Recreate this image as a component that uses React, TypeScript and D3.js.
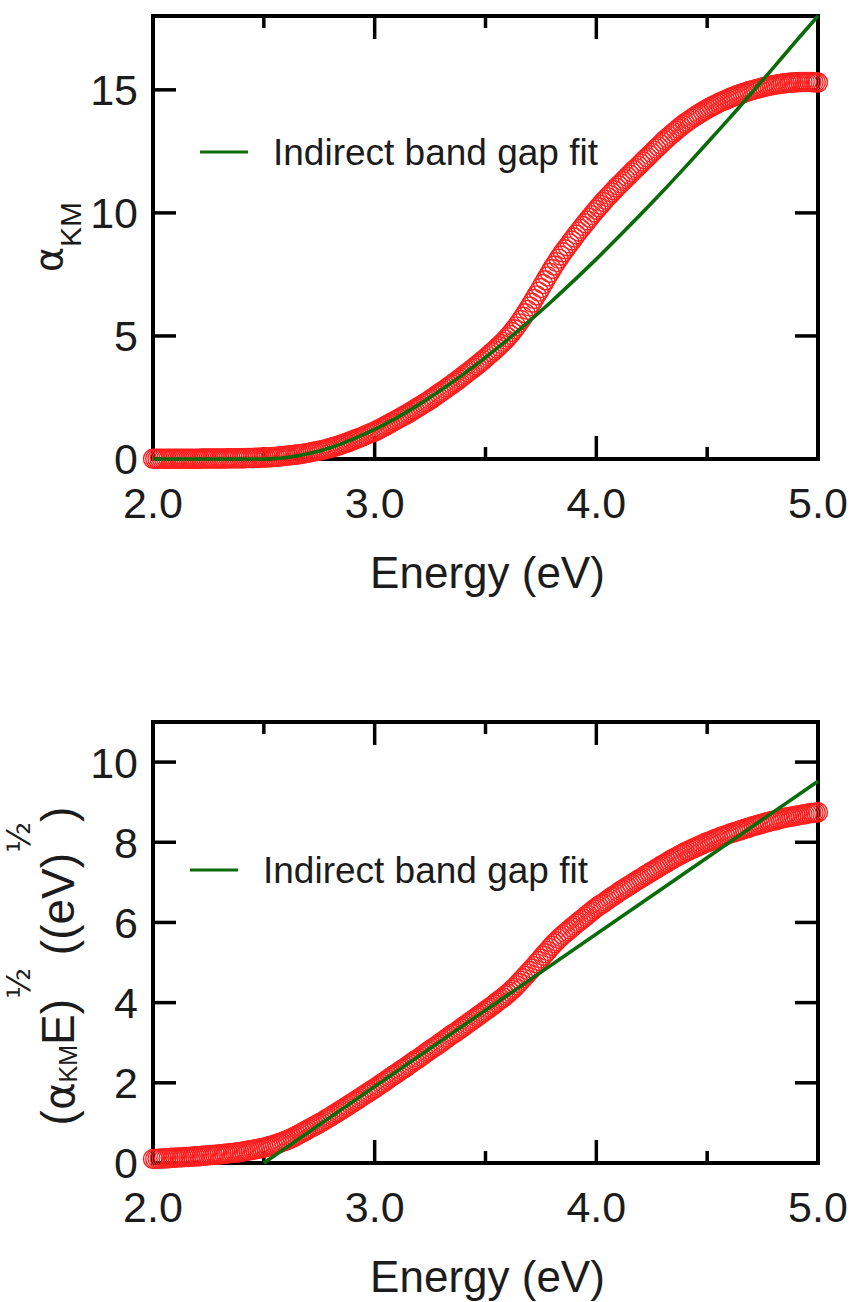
import React from 'react';
import * as d3 from 'd3';

// Photon energy grid of the measured spectra (eV)
const energyStart = 2.0;
const energyStep = 0.01;

// Kubelka-Munk absorption, alpha_KM, sampled every 0.01 eV from 2.00 to 5.00 eV
const alphaKM = [
  0.01, 0.01, 0.01, 0.01, 0.01, 0.01, 0.01, 0.01, 0.01, 0.01,
  0.01, 0.01, 0.01, 0.01, 0.01, 0.01, 0.01, 0.01, 0.01, 0.01,
  0.01, 0.01, 0.02, 0.02, 0.02, 0.02, 0.02, 0.02, 0.02, 0.02,
  0.02, 0.02, 0.02, 0.02, 0.03, 0.03, 0.03, 0.03, 0.03, 0.03,
  0.03, 0.03, 0.04, 0.04, 0.04, 0.04, 0.05, 0.05, 0.05, 0.06,
  0.06, 0.06, 0.07, 0.07, 0.08, 0.08, 0.09, 0.10, 0.11, 0.12,
  0.13, 0.14, 0.15, 0.16, 0.17, 0.18, 0.19, 0.21, 0.22, 0.24,
  0.25, 0.27, 0.29, 0.31, 0.32, 0.34, 0.36, 0.38, 0.40, 0.43,
  0.45, 0.48, 0.50, 0.53, 0.56, 0.59, 0.62, 0.65, 0.68, 0.72,
  0.75, 0.79, 0.82, 0.86, 0.89, 0.93, 0.97, 1.01, 1.05, 1.08,
  1.12, 1.17, 1.21, 1.26, 1.30, 1.35, 1.40, 1.45, 1.50, 1.55,
  1.60, 1.65, 1.70, 1.75, 1.80, 1.85, 1.90, 1.96, 2.01, 2.07,
  2.12, 2.18, 2.24, 2.29, 2.35, 2.41, 2.47, 2.53, 2.60, 2.66,
  2.72, 2.78, 2.85, 2.91, 2.98, 3.04, 3.11, 3.17, 3.24, 3.31,
  3.38, 3.45, 3.52, 3.59, 3.66, 3.73, 3.80, 3.87, 3.95, 4.02,
  4.10, 4.18, 4.26, 4.34, 4.42, 4.50, 4.58, 4.67, 4.76, 4.85,
  4.95, 5.05, 5.16, 5.27, 5.39, 5.52, 5.65, 5.78, 5.92, 6.06,
  6.20, 6.35, 6.50, 6.65, 6.80, 6.95, 7.11, 7.26, 7.42, 7.57,
  7.72, 7.86, 8.00, 8.14, 8.27, 8.40, 8.52, 8.64, 8.76, 8.88,
  9.00, 9.12, 9.24, 9.35, 9.47, 9.58, 9.69, 9.80, 9.91, 10.02,
  10.13, 10.23, 10.33, 10.44, 10.54, 10.64, 10.73, 10.83, 10.92, 11.02,
  11.11, 11.20, 11.29, 11.38, 11.47, 11.56, 11.65, 11.74, 11.82, 11.91,
  12.00, 12.09, 12.18, 12.26, 12.35, 12.44, 12.53, 12.62, 12.70, 12.79,
  12.88, 12.96, 13.04, 13.12, 13.20, 13.28, 13.35, 13.43, 13.50, 13.57,
  13.64, 13.70, 13.77, 13.83, 13.89, 13.95, 14.01, 14.06, 14.12, 14.17,
  14.22, 14.27, 14.32, 14.37, 14.41, 14.46, 14.50, 14.54, 14.58, 14.62,
  14.66, 14.70, 14.73, 14.77, 14.80, 14.83, 14.86, 14.89, 14.92, 14.95,
  14.98, 15.00, 15.03, 15.05, 15.08, 15.10, 15.12, 15.14, 15.16, 15.18,
  15.20, 15.21, 15.23, 15.24, 15.26, 15.27, 15.28, 15.29, 15.30, 15.30,
  15.31, 15.31, 15.32, 15.32, 15.32, 15.32, 15.32, 15.32, 15.31, 15.31,
  15.30,
];

// (alpha_KM * E)^(1/2), same energy grid
const alphaKMEHalf = [
  0.10, 0.10, 0.11, 0.11, 0.11, 0.12, 0.12, 0.12, 0.13, 0.13,
  0.13, 0.14, 0.14, 0.14, 0.15, 0.15, 0.15, 0.16, 0.16, 0.17,
  0.17, 0.17, 0.18, 0.18, 0.19, 0.19, 0.20, 0.20, 0.21, 0.21,
  0.22, 0.22, 0.23, 0.23, 0.24, 0.25, 0.25, 0.26, 0.27, 0.27,
  0.28, 0.29, 0.30, 0.31, 0.32, 0.33, 0.34, 0.35, 0.36, 0.37,
  0.38, 0.40, 0.41, 0.43, 0.44, 0.46, 0.48, 0.50, 0.52, 0.54,
  0.56, 0.58, 0.61, 0.63, 0.66, 0.69, 0.72, 0.75, 0.78, 0.81,
  0.84, 0.87, 0.90, 0.93, 0.96, 0.99, 1.02, 1.05, 1.09, 1.12,
  1.15, 1.19, 1.22, 1.26, 1.29, 1.33, 1.36, 1.40, 1.43, 1.47,
  1.50, 1.54, 1.57, 1.61, 1.65, 1.68, 1.72, 1.76, 1.79, 1.83,
  1.86, 1.90, 1.94, 1.98, 2.01, 2.05, 2.09, 2.13, 2.17, 2.20,
  2.24, 2.28, 2.32, 2.35, 2.39, 2.43, 2.47, 2.51, 2.55, 2.58,
  2.62, 2.66, 2.70, 2.74, 2.78, 2.82, 2.86, 2.89, 2.93, 2.97,
  3.01, 3.05, 3.09, 3.13, 3.17, 3.21, 3.24, 3.28, 3.32, 3.36,
  3.40, 3.44, 3.48, 3.52, 3.56, 3.60, 3.64, 3.68, 3.72, 3.76,
  3.80, 3.84, 3.88, 3.92, 3.96, 4.01, 4.05, 4.09, 4.13, 4.18,
  4.22, 4.27, 4.32, 4.37, 4.43, 4.49, 4.55, 4.61, 4.67, 4.73,
  4.79, 4.85, 4.91, 4.98, 5.04, 5.10, 5.17, 5.23, 5.29, 5.36,
  5.42, 5.48, 5.53, 5.59, 5.64, 5.69, 5.74, 5.78, 5.83, 5.88,
  5.92, 5.97, 6.01, 6.06, 6.10, 6.15, 6.19, 6.24, 6.28, 6.33,
  6.37, 6.41, 6.45, 6.48, 6.52, 6.56, 6.60, 6.64, 6.67, 6.71,
  6.75, 6.79, 6.82, 6.86, 6.89, 6.93, 6.96, 7.00, 7.03, 7.07,
  7.10, 7.13, 7.17, 7.20, 7.24, 7.27, 7.30, 7.34, 7.37, 7.41,
  7.44, 7.47, 7.50, 7.54, 7.57, 7.60, 7.63, 7.66, 7.69, 7.72,
  7.75, 7.78, 7.80, 7.83, 7.85, 7.88, 7.90, 7.93, 7.95, 7.98,
  8.00, 8.02, 8.04, 8.07, 8.09, 8.11, 8.13, 8.15, 8.17, 8.19,
  8.21, 8.23, 8.25, 8.26, 8.28, 8.30, 8.32, 8.34, 8.35, 8.37,
  8.39, 8.41, 8.42, 8.44, 8.45, 8.47, 8.48, 8.50, 8.51, 8.53,
  8.54, 8.55, 8.57, 8.58, 8.60, 8.61, 8.62, 8.63, 8.64, 8.65,
  8.66, 8.67, 8.68, 8.69, 8.70, 8.71, 8.72, 8.73, 8.73, 8.74,
  8.75,
];

// Indirect band gap fit curves
const fitEnergyTop = [
  2.0, 2.1, 2.2, 2.3, 2.4, 2.5, 2.6, 2.7, 2.8, 2.9, 3.0, 3.1, 3.2, 3.3, 3.4, 3.5,
  3.6, 3.7, 3.8, 3.9, 4.0, 4.1, 4.2, 4.3, 4.4, 4.5, 4.6, 4.7, 4.8, 4.9, 5.0,
];
const fitAlphaKM = [
  0, 0, 0, 0, 0, 0, 0.06, 0.21, 0.46, 0.8, 1.2, 1.68, 2.21, 2.8, 3.44, 4.13,
  4.85, 5.62, 6.42, 7.26, 8.12, 9.02, 9.94, 10.88, 11.85, 12.84, 13.84, 14.87, 15.91, 16.97, 18.0,
];
const fitEnergyBottom = [2.5, 5.0];
const fitAlphaKMEHalf = [0, 9.52];

// Axis ticks and labels
const xMajorTicks = [2, 3, 4, 5];
const xMinorTicks = [2.5, 3.5, 4.5];
const topYTicks = [0, 5, 10, 15];
const bottomYTicks = [0, 2, 4, 6, 8, 10];
const legendLabel = 'Indirect band gap fit';
const xAxisTitle = 'Energy (eV)';

const FONT = '"Liberation Sans", Arial, Helvetica, sans-serif';
const GREEK = '"DejaVu Sans", sans-serif';
const TEXT = '#1c1c1c';
const RED = '#ff1f1f';
const GREEN = '#0b6b0b';
const LEFT = 153;
const RIGHT = 818;

type Pt = { e: number; v: number };

function Panel(props: {
  top: number;
  bottom: number;
  yMax: number;
  yTicks: number[];
  points: Pt[];
  fit: Pt[];
  legendX: number;
  legendY: number;
  yLabel: React.ReactNode;
}) {
  const { top, bottom, yMax, yTicks, points, fit, legendX, legendY, yLabel } = props;
  const x = d3.scaleLinear().domain([2, 5]).range([LEFT, RIGHT]);
  const y = d3.scaleLinear().domain([0, yMax]).range([bottom, top]);
  const fitLine = d3
    .line<Pt>()
    .x((d) => x(d.e))
    .y((d) => y(d.v))
    .curve(d3.curveMonotoneX);

  const major = 23;
  const minor = 12;
  const tickW = 3.5;

  return (
    <g>
      {/* ticks on all four sides, pointing inwards */}
      {xMajorTicks.map((t) => (
        <g key={'xM' + t}>
          <line x1={x(t)} x2={x(t)} y1={bottom} y2={bottom - major} stroke="#000" strokeWidth={tickW} />
          <line x1={x(t)} x2={x(t)} y1={top} y2={top + major} stroke="#000" strokeWidth={tickW} />
        </g>
      ))}
      {xMinorTicks.map((t) => (
        <g key={'xm' + t}>
          <line x1={x(t)} x2={x(t)} y1={bottom} y2={bottom - minor} stroke="#000" strokeWidth={tickW} />
          <line x1={x(t)} x2={x(t)} y1={top} y2={top + minor} stroke="#000" strokeWidth={tickW} />
        </g>
      ))}
      {yTicks.map((t) => (
        <g key={'y' + t}>
          <line x1={LEFT} x2={LEFT + major} y1={y(t)} y2={y(t)} stroke="#000" strokeWidth={tickW} />
          <line x1={RIGHT} x2={RIGHT - major} y1={y(t)} y2={y(t)} stroke="#000" strokeWidth={tickW} />
        </g>
      ))}
      <rect x={LEFT} y={top} width={RIGHT - LEFT} height={bottom - top} fill="none" stroke="#000" strokeWidth={4} />

      {/* tick labels */}
      {yTicks.map((t) => (
        <text key={'yl' + t} x={LEFT - 15} y={y(t)} dy="0.36em" textAnchor="end" fontSize={43} fill={TEXT} fontFamily={FONT}>
          {t}
        </text>
      ))}
      {xMajorTicks.map((t) => (
        <text key={'xl' + t} x={x(t)} y={bottom + 59} textAnchor="middle" fontSize={43} fill={TEXT} fontFamily={FONT}>
          {t.toFixed(1)}
        </text>
      ))}
      <text x={(LEFT + RIGHT) / 2 + 2} y={bottom + 129} textAnchor="middle" fontSize={44} fill={TEXT} fontFamily={FONT}>
        {xAxisTitle}
      </text>
      {yLabel}

      {/* measured spectrum as open circles */}
      <g fill="none" stroke={RED} strokeWidth={1.4}>
        {points.map((d, i) => (
          <circle key={i} cx={x(d.e)} cy={y(d.v)} r={9.5} />
        ))}
      </g>

      {/* fit */}
      <path d={fitLine(fit) || ''} fill="none" stroke={GREEN} strokeWidth={3.6} />

      {/* legend */}
      <line x1={legendX} x2={legendX + 48} y1={legendY} y2={legendY} stroke={GREEN} strokeWidth={3} />
      <text x={legendX + 73} y={legendY + 13} fontSize={37} fill={TEXT} fontFamily={FONT}>
        {legendLabel}
      </text>
    </g>
  );
}

export default function App() {
  const topPoints: Pt[] = alphaKM.map((v, i) => ({ e: energyStart + i * energyStep, v }));
  const bottomPoints: Pt[] = alphaKMEHalf.map((v, i) => ({ e: energyStart + i * energyStep, v }));
  const topFit: Pt[] = fitEnergyTop.map((e, i) => ({ e, v: fitAlphaKM[i] }));
  const bottomFit: Pt[] = fitEnergyBottom.map((e, i) => ({ e, v: fitAlphaKMEHalf[i] }));

  const topYLabel = (
    <text transform="translate(62,237) rotate(-90)" textAnchor="middle" fill={TEXT} fontFamily={FONT}>
      <tspan fontSize={38} fontFamily={GREEK}>α</tspan>
      <tspan fontSize={30} dy={19}>KM</tspan>
    </text>
  );

  const bottomYLabel = (
    <text transform="translate(74,966) rotate(-90)" textAnchor="middle" fill={TEXT} fontFamily={FONT}>
      <tspan fontSize={46}>(</tspan>
      <tspan fontSize={42} fontFamily={GREEK}>α</tspan>
      <tspan fontSize={25} dy={3}>KM</tspan>
      <tspan fontSize={46} dy={-3}>E)</tspan>
      <tspan fontSize={32} fontFamily={GREEK} dy={-44}>½</tspan>
      <tspan fontSize={46} dy={44}> ((eV)</tspan>
      <tspan fontSize={32} fontFamily={GREEK} dy={-44}>½</tspan>
      <tspan fontSize={46} dy={44}>)</tspan>
    </text>
  );

  return (
    <svg
      width={856}
      height={1302}
      viewBox="0 0 856 1302"
      style={{ position: 'absolute', left: 0, top: 0, background: '#fff' }}
    >
      <rect width={856} height={1302} fill="#fff" />
      <Panel
        top={16}
        bottom={459}
        yMax={18}
        yTicks={topYTicks}
        points={topPoints}
        fit={topFit}
        legendX={200}
        legendY={152}
        yLabel={topYLabel}
      />
      <Panel
        top={722}
        bottom={1163}
        yMax={11}
        yTicks={bottomYTicks}
        points={bottomPoints}
        fit={bottomFit}
        legendX={190}
        legendY={870}
        yLabel={bottomYLabel}
      />
    </svg>
  );
}
